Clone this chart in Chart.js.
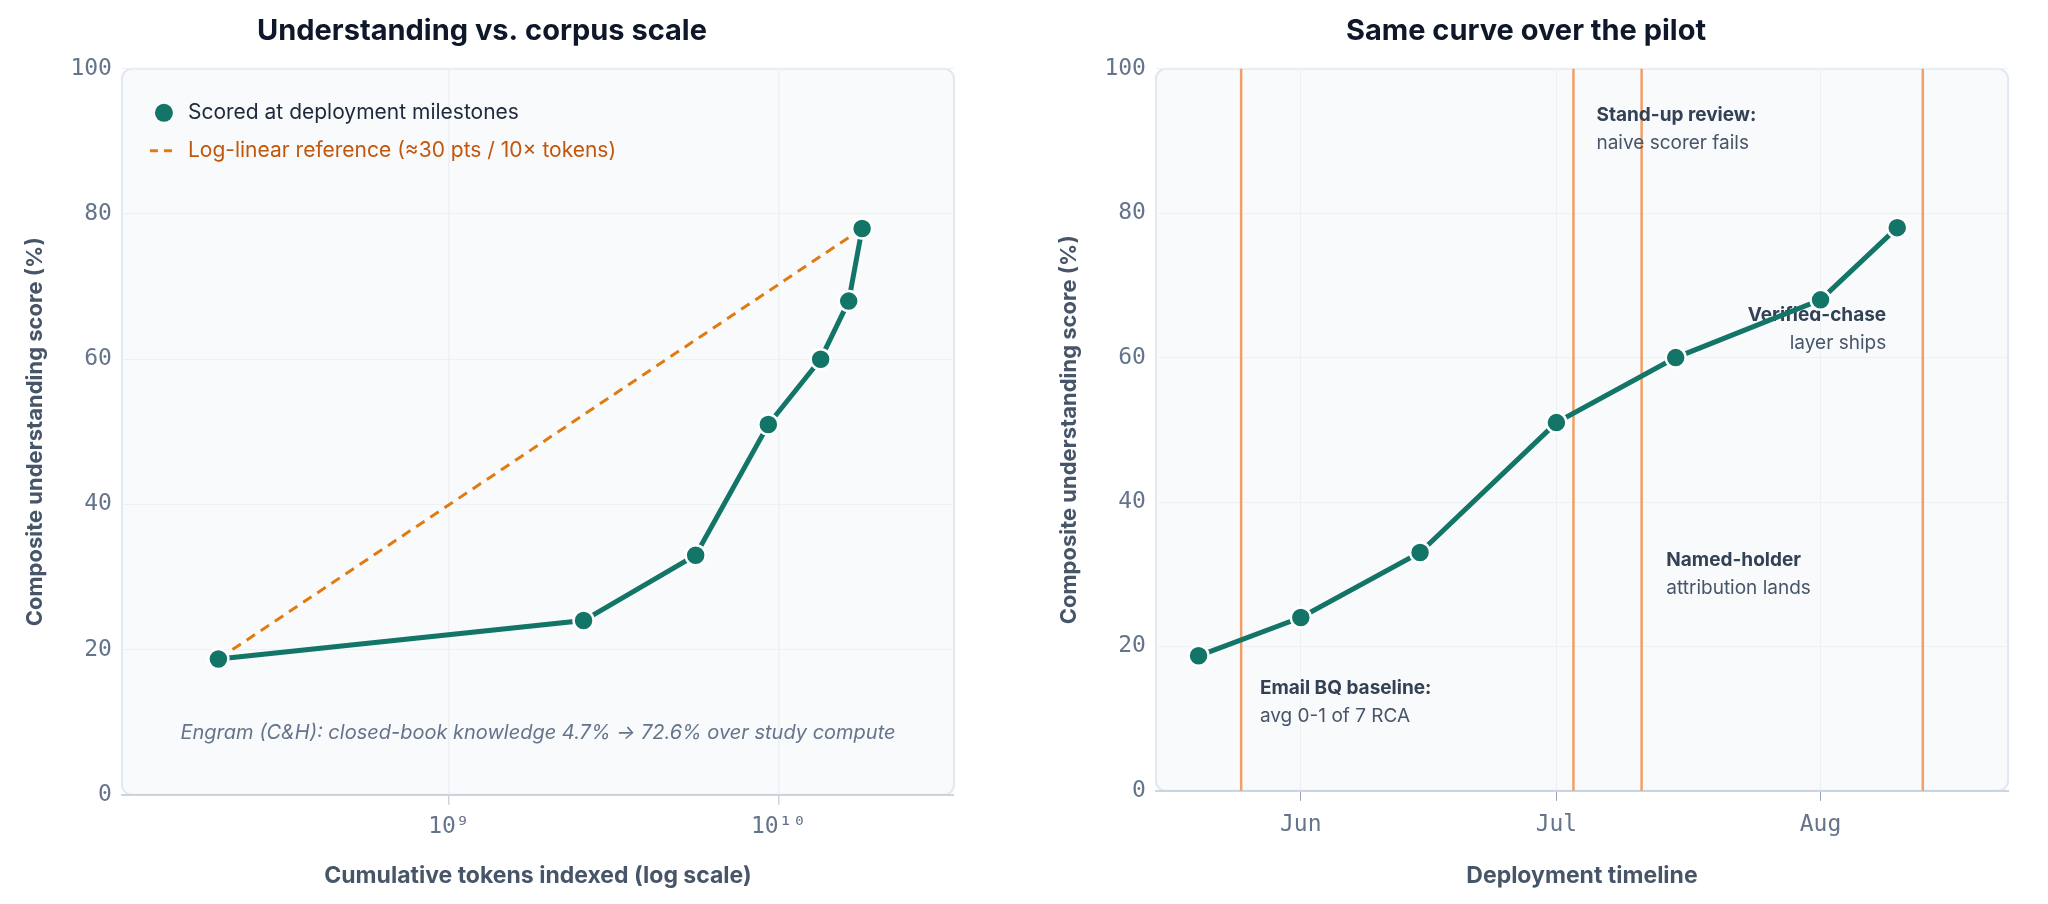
<!DOCTYPE html>
<html><head><meta charset="utf-8">
<script src="https://cdn.jsdelivr.net/npm/chart.js@4/dist/chart.umd.min.js"></script>
<style>
body{margin:0;background:#fff;width:2048px;height:904px;display:flex;font-family:Inter,"Noto Sans",sans-serif}
.box{width:1024px;height:904px;position:relative}
</style></head><body>
<div class="box"><canvas id="c1" width="1024" height="904"></canvas></div>
<div class="box"><canvas id="c2" width="1024" height="904"></canvas></div>
<script>
// data
var tokens = [2.0e8, 2.56e9, 5.6e9, 9.3e9, 1.34e10, 1.63e10, 1.79e10];
var scores = [18.7, 24, 33, 51, 60, 68, 78];
var refTokens = [2.0e8, 1.79e10];
var refScores = [18.7, 78];
var logTicks = [2e8, 5e8, 1e9, 2e9, 3e9, 5e9, 1e10, 2e10];
// days since Jun 1
var days = [-12, 0, 14, 30, 44, 61, 70];
var monthTicks = [0, 30, 61];
var monthLabels = ["Jun", "Jul", "Aug"];
var eventDays = [-7, 32, 40, 73];
var notes = [
  {x: -4.8, y: 14.2, b: "Email BQ baseline:", t: "avg 0-1 of 7 RCA", align: "left"},
  {x: 34.7, y: 93.5, b: "Stand-up review:", t: "naive scorer fails", align: "left"},
  {x: 42.9, y: 31.9, b: "Named-holder", t: "attribution lands", align: "left"},
  {x: 68.7, y: 65.9, b: "Verified-chase", t: "layer ships", align: "right"}
];

var teal = "#137567", orange = "#e07b12", ink = "#0f172a", muted = "#475569", tick = "#64748b";
var mono = "'DejaVu Sans Mono', monospace";
var sans = "Inter, 'Noto Sans', sans-serif";

var plotBg = {
  id: "plotBg",
  beforeDraw: function (c) {
    var a = c.chartArea, x = c.ctx;
    x.save();
    x.fillStyle = "#f8fafc";
    x.strokeStyle = "#e2e8f0";
    x.lineWidth = 2;
    x.beginPath();
    x.roundRect(a.left, a.top, a.right - a.left, a.bottom - a.top, 10);
    x.fill(); x.stroke();
    x.restore();
  }
};

function yAxis() {
  return {
    min: 0, max: 100,
    ticks: {stepSize: 20, color: tick, font: {family: mono, size: 23}, padding: 10},
    grid: {color: "#edf1f5", drawTicks: false},
    border: {display: false},
    title: {display: true, text: "Composite understanding score (%)", color: muted, font: {family: sans, size: 22, weight: "bold"}, padding: 12}
  };
}
function titleOpt(t) {
  return {display: true, text: t, color: ink, font: {family: sans, size: 29, weight: "bold"}, padding: {top: 14, bottom: 20}};
}
var sup = {"9": "⁹", "10": "¹⁰"};

new Chart(document.getElementById("c1"), {
  type: "line",
  data: {datasets: [
    {label: "Scored at deployment milestones", data: tokens.map(function (t, i) { return {x: t, y: scores[i]}; }),
     borderColor: teal, backgroundColor: teal, borderWidth: 5, pointRadius: 10, pointBorderColor: "#fff", pointBorderWidth: 2.5},
    {label: "Log-linear reference (≈30 pts / 10× tokens)", data: refTokens.map(function (t, i) { return {x: t, y: refScores[i]}; }),
     borderColor: orange, backgroundColor: orange, borderWidth: 3, borderDash: [10, 7], pointRadius: 0}
  ]},
  options: {
    responsive: false, animation: false,
    layout: {padding: {left: 10, right: 70, bottom: 10}},
    scales: {
      x: {type: "logarithmic", min: 1.02e8, max: 3.4e10,
        afterBuildTicks: function (s) { s.ticks = logTicks.map(function (v) { return {value: v}; }); },
        ticks: {autoSkip: false, maxRotation: 0, color: tick, font: {family: mono, size: 23}, padding: 8,
          callback: function (v) { var e = Math.round(Math.log10(v)); return Math.abs(Math.log10(v) - e) < 1e-6 ? "10" + sup[e] : ""; }},
        grid: {color: "#edf1f5", tickColor: "#cbd5e1", tickLength: 10, drawOnChartArea: true,
          lineWidth: function (c) { var v = c.tick && c.tick.value; var l = Math.log10(v); return Math.abs(l - Math.round(l)) < 1e-6 ? 1.5 : 0; }},
        border: {color: "#cbd5e1", width: 2},
        title: {display: true, text: "Cumulative tokens indexed (log scale)", color: muted, font: {family: sans, size: 23, weight: "bold"}, padding: {top: 14}}
      },
      y: yAxis()
    },
    plugins: {
      title: titleOpt("Understanding vs. corpus scale"),
      legend: {display: false},
      tooltip: {enabled: false}
    }
  },
  plugins: [plotBg, {
    id: "notes1",
    afterDraw: function (c) {
      var x = c.ctx, a = c.chartArea, sy = c.scales.y;
      x.save();
      x.textBaseline = "middle";
      x.font = "21px " + sans;
      x.fillStyle = teal;
      x.beginPath(); x.arc(a.left + 42, a.top + 44, 9, 0, Math.PI * 2); x.fill();
      x.fillStyle = "#1e293b";
      x.fillText(c.data.datasets[0].label, a.left + 66, a.top + 44);
      x.strokeStyle = orange; x.lineWidth = 3; x.setLineDash([8, 6]);
      x.beginPath(); x.moveTo(a.left + 28, a.top + 82); x.lineTo(a.left + 56, a.top + 82); x.stroke();
      x.fillStyle = "#c2570c";
      x.fillText(c.data.datasets[1].label, a.left + 66, a.top + 82);
      x.font = "italic 20px " + sans;
      x.fillStyle = "#64748b";
      x.textAlign = "center";
      x.fillText("Engram (C&H): closed-book knowledge 4.7% → 72.6% over study compute", (a.left + a.right) / 2, sy.getPixelForValue(8.5));
      x.restore();
    }
  }]
});

new Chart(document.getElementById("c2"), {
  type: "line",
  data: {datasets: [
    {label: "score", data: days.map(function (d, i) { return {x: d, y: scores[i]}; }),
     borderColor: teal, backgroundColor: teal, borderWidth: 5, pointRadius: 10, pointBorderColor: "#fff", pointBorderWidth: 2.5}
  ]},
  options: {
    responsive: false, animation: false,
    layout: {padding: {left: 20, right: 40, bottom: 10}},
    scales: {
      x: {type: "linear", min: -17, max: 83,
        afterBuildTicks: function (s) { s.ticks = monthTicks.map(function (v) { return {value: v}; }); },
        ticks: {autoSkip: false, color: tick, font: {family: mono, size: 23}, padding: 10,
          callback: function (v) { return monthLabels[monthTicks.indexOf(v)]; }},
        grid: {color: "#edf1f5", tickColor: "#94a3b8", tickLength: 10},
        border: {color: "#cbd5e1", width: 2},
        title: {display: true, text: "Deployment timeline", color: muted, font: {family: sans, size: 23, weight: "bold"}, padding: {top: 14}}
      },
      y: yAxis()
    },
    plugins: {
      title: titleOpt("Same curve over the pilot"),
      legend: {display: false},
      tooltip: {enabled: false}
    }
  },
  plugins: [plotBg, {
    id: "events",
    beforeDatasetsDraw: function (c) {
      var x = c.ctx, a = c.chartArea, sx = c.scales.x, sy = c.scales.y;
      x.save();
      x.strokeStyle = "#f0a066"; x.lineWidth = 2.5;
      eventDays.forEach(function (d) {
        var px = sx.getPixelForValue(d);
        x.beginPath(); x.moveTo(px, a.top); x.lineTo(px, a.bottom); x.stroke();
      });
      x.textBaseline = "middle";
      notes.forEach(function (n) {
        var px = sx.getPixelForValue(n.x), py = sy.getPixelForValue(n.y);
        x.textAlign = n.align;
        x.font = "bold 19px " + sans; x.fillStyle = "#334155";
        x.fillText(n.b, px, py);
        x.font = "19px " + sans; x.fillStyle = "#475569";
        x.fillText(n.t, px, py + 28);
      });
      x.restore();
    }
  }]
});
</script>
</body></html>
